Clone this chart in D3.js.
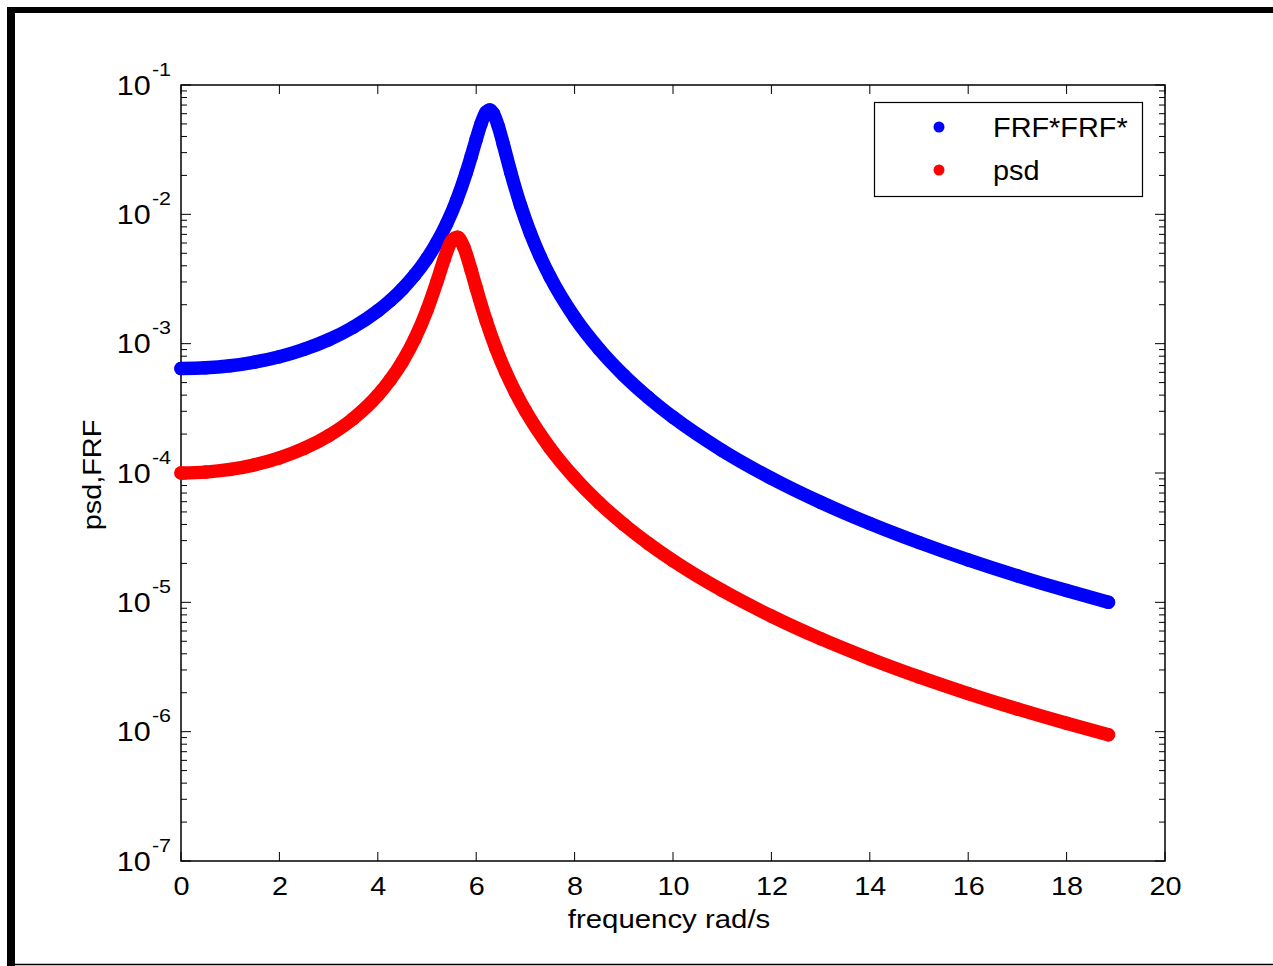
<!DOCTYPE html>
<html>
<head>
<meta charset="utf-8">
<script src="https://cdn.jsdelivr.net/npm/d3@7"></script>
<style>
  body { margin: 0; background: #fff; }
  svg { display: block; font-family: "Liberation Sans", Arial, Helvetica, sans-serif; }
</style>
</head>
<body>
<svg id="chart" width="1273" height="966"></svg>
<script>
// frequency samples (rad/s), denser near the peaks
const freqBlue = [0, 0.5, 1, 1.5, 2, 2.5, 3, 3.5, 4, 4.25, 4.5, 4.75, 5, 5.2, 5.4, 5.6, 5.8, 5.9,
  6.0, 6.1, 6.2, 6.28, 6.35, 6.45, 6.55, 6.7, 6.9, 7.1, 7.3, 7.5, 8, 8.5, 9, 9.5, 10,
  11, 12, 13, 14, 15, 16, 17, 18, 18.85];
const frfValues = [6.42e-4, 6.50e-4, 6.75e-4, 7.21e-4, 7.93e-4, 9.04e-4, 1.072e-3, 1.34e-3, 1.794e-3,
  2.147e-3, 2.648e-3, 3.39e-3, 4.556e-3, 6.046e-3, 8.47e-3, 1.277e-2, 2.111e-2, 2.814e-2,
  3.80e-2, 5.04e-2, 6.15e-2, 6.42e-2, 6.01e-2, 4.78e-2, 3.49e-2, 2.127e-2, 1.177e-2, 7.17e-3,
  4.72e-3, 3.295e-3, 1.596e-3, 9.07e-4, 5.69e-4, 3.83e-4, 2.70e-4,
  1.494e-4, 9.11e-5, 5.94e-5, 4.07e-5, 2.90e-5, 2.128e-5, 1.603e-5, 1.233e-5, 1.001e-5];

const freqRed = [0, 0.5, 1, 1.5, 2, 2.5, 3, 3.5, 4, 4.25, 4.5, 4.75, 5, 5.2, 5.35, 5.5, 5.62,
  5.75, 5.9, 6.0, 6.2, 6.4, 6.6, 6.8, 7, 7.5, 8, 8.5, 9, 9.5, 10,
  11, 12, 13, 14, 15, 16, 17, 18, 18.85];
const psdValues = [1.0e-4, 1.016e-4, 1.066e-4, 1.158e-4, 1.308e-4, 1.548e-4, 1.941e-4, 2.632e-4, 3.99e-4,
  5.23e-4, 7.25e-4, 1.089e-3, 1.82e-3, 3.008e-3, 4.507e-3, 6.226e-3, 6.66e-3,
  5.55e-3, 3.67e-3, 2.699e-3, 1.514e-3, 9.22e-4, 6.03e-4, 4.185e-4, 3.036e-4, 1.5625e-4, 9.18e-5,
  5.885e-5, 4.006e-5, 2.852e-5, 2.10e-5,
  1.235e-5, 7.83e-6, 5.24e-6, 3.667e-6, 2.652e-6, 1.971e-6, 1.498e-6, 1.161e-6, 9.48e-7];

const xTicks = [0, 2, 4, 6, 8, 10, 12, 14, 16, 18, 20];
const yExponents = [-1, -2, -3, -4, -5, -6, -7];
const legendLabels = ["FRF*FRF*", "psd"];
const colors = ["#0000ff", "#ff0000"];

// matlab's helvetica renders a bit wider than liberation sans
const widen = 1.13;

const svg = d3.select("#chart");

// outer frame of the screenshot
svg.append("rect").attr("x", 7).attr("y", 7).attr("width", 1280).attr("height", 6).attr("fill", "#000");
svg.append("rect").attr("x", 7).attr("y", 7).attr("width", 8).attr("height", 970).attr("fill", "#000");
svg.append("line").attr("x1", 7).attr("x2", 1273).attr("y1", 964.5).attr("y2", 964.5)
  .attr("stroke", "#000").attr("stroke-width", 1.5);

const pLeft = 181, pRight = 1165, pTop = 85, pBottom = 861;
const x = d3.scaleLinear([0, 20], [pLeft, pRight]);
const y = d3.scaleLog([1e-7, 1e-1], [pBottom, pTop]);

// minor + major y ticks (inward, both sides)
const minorY = [];
for (let e = -7; e < -1; e++) {
  for (let m = 2; m <= 9; m++) minorY.push(m * Math.pow(10, e));
}
const tickG = svg.append("g").attr("stroke", "#000").attr("stroke-width", 1);
minorY.forEach(v => {
  tickG.append("line").attr("x1", pLeft).attr("x2", pLeft + 6).attr("y1", y(v)).attr("y2", y(v));
  tickG.append("line").attr("x1", pRight).attr("x2", pRight - 6).attr("y1", y(v)).attr("y2", y(v));
});
yExponents.forEach(e => {
  const v = Math.pow(10, e);
  tickG.append("line").attr("x1", pLeft).attr("x2", pLeft + 10).attr("y1", y(v)).attr("y2", y(v));
  tickG.append("line").attr("x1", pRight).attr("x2", pRight - 10).attr("y1", y(v)).attr("y2", y(v));
});
xTicks.forEach(t => {
  tickG.append("line").attr("x1", x(t)).attr("x2", x(t)).attr("y1", pBottom).attr("y2", pBottom - 9);
  tickG.append("line").attr("x1", x(t)).attr("x2", x(t)).attr("y1", pTop).attr("y2", pTop + 9);
});

// axes box
svg.append("rect").attr("x", pLeft).attr("y", pTop).attr("width", pRight - pLeft).attr("height", pBottom - pTop)
  .attr("fill", "none").attr("stroke", "#000").attr("stroke-width", 1.5);

// tick labels
svg.selectAll(".xlab").data(xTicks).enter().append("text")
  .attr("transform", d => `translate(${x(d) + 0.5},${pBottom + 34}) scale(${widen},1)`)
  .attr("text-anchor", "middle").attr("font-size", 25.5).text(d => d);

yExponents.forEach(e => {
  const t = svg.append("text")
    .attr("transform", `translate(171,${y(Math.pow(10, e)) + 9.5}) scale(${widen},1)`)
    .attr("text-anchor", "end").attr("font-size", 27);
  t.append("tspan").text("10");
  t.append("tspan").attr("dx", 1).attr("dy", -19).attr("font-size", 19).text(String(e));
});

// axis titles
svg.append("text").attr("transform", `translate(669,928) scale(${widen},1)`)
  .attr("text-anchor", "middle").attr("font-size", 26).text("frequency rad/s");
svg.append("text").attr("transform", `translate(101,475) rotate(-90) scale(1.11,1)`)
  .attr("text-anchor", "middle").attr("font-size", 26).text("psd,FRF");

// series
const series = [
  freqBlue.map((f, i) => ({ f: f, v: frfValues[i] })),
  freqRed.map((f, i) => ({ f: f, v: psdValues[i] }))
];
const line = d3.line().x(d => x(d.f)).y(d => y(d.v)).curve(d3.curveMonotoneX);

series.forEach((s, i) => {
  const g = svg.append("g");
  g.append("path").attr("d", line(s)).attr("fill", "none")
    .attr("stroke", colors[i]).attr("stroke-width", 13.5)
    .attr("stroke-linecap", "round").attr("stroke-linejoin", "round");
  g.selectAll("circle").data(s).enter().append("circle")
    .attr("cx", d => x(d.f)).attr("cy", d => y(d.v)).attr("r", 6.75).attr("fill", colors[i]);
});

// legend
const lg = svg.append("g");
lg.append("rect").attr("x", 874.5).attr("y", 102.5).attr("width", 268).attr("height", 94)
  .attr("fill", "#fff").attr("stroke", "#000").attr("stroke-width", 1.2);
legendLabels.forEach((lab, i) => {
  const cy = 127 + i * 43;
  lg.append("circle").attr("cx", 939).attr("cy", cy).attr("r", 5.5).attr("fill", colors[i]);
  lg.append("text").attr("transform", `translate(993,${cy + 10}) scale(1.05,1)`)
    .attr("font-size", 27.5).text(lab);
});
</script>
</body>
</html>
